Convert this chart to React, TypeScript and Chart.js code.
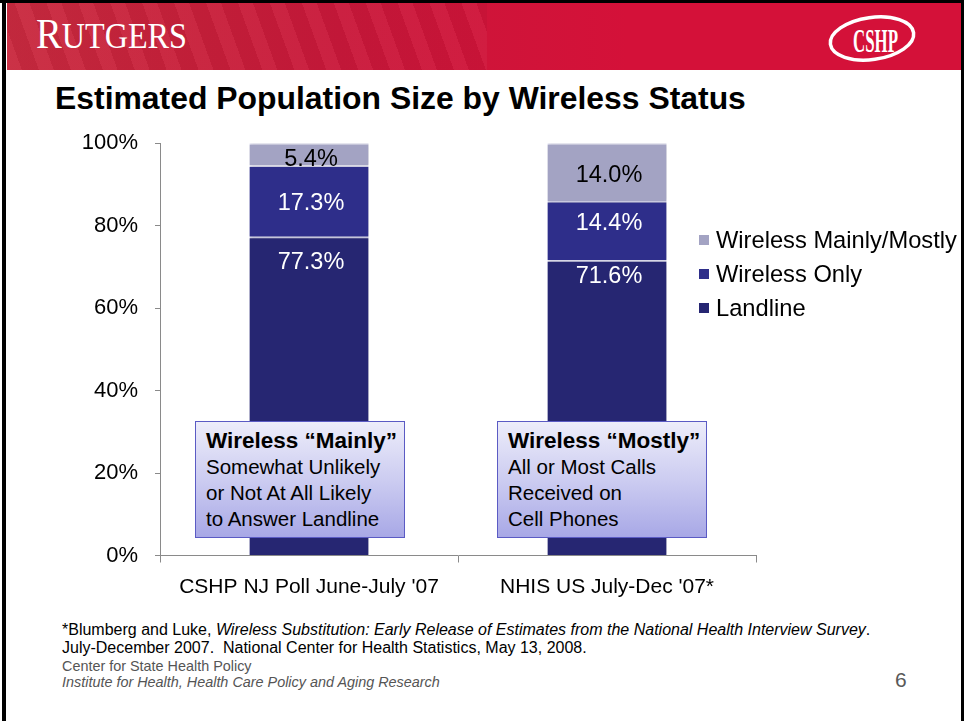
import React, { useEffect, useRef } from "react";
import { Chart, registerables } from "chart.js";

Chart.register(...registerables);

// ---------- data ----------
const categories = ["CSHP NJ Poll June-July '07", "NHIS US July-Dec '07*"];
const landline = [77.3, 71.6];
const wirelessOnly = [17.3, 14.4];
const wirelessMainly = [5.4, 14.0];
const seriesNames = ["Landline", "Wireless Only", "Wireless Mainly/Mostly"];
const yTickValues = [0, 20, 40, 60, 80, 100];

// ---------- styles ----------
const FONT = "'Liberation Sans', Arial, Helvetica, sans-serif";
const SERIF = "'Liberation Serif', 'Times New Roman', serif";
const COLORS = ["#262672", "#2E2E8A", "#A3A3C3"];
const AXIS = "#8a8a8a";
const LABEL_STYLE = [
  { anchor: "top", nudge: [26, 16], color: "#ffffff" },
  { anchor: "center", nudge: [2, -7], color: "#ffffff" },
  { anchor: "center", nudge: [5, 3], color: "#000000" },
];

const shadowPlugin = {
  id: "barShadow",
  beforeDatasetsDraw(chart: any) {
    const c = chart.ctx;
    c.save();
    c.shadowColor = "rgba(0,0,0,0.18)";
    c.shadowOffsetX = 1.5;
    c.shadowOffsetY = 0;
    c.shadowBlur = 3;
  },
  afterDatasetsDraw(chart: any) {
    chart.ctx.restore();
  },
};

const labelPlugin = {
  id: "valueLabels",
  afterDatasetsDraw(chart: any) {
    const ctx = chart.ctx;
    ctx.save();
    ctx.font = `23.5px ${FONT}`;
    ctx.textAlign = "center";
    ctx.textBaseline = "middle";
    chart.data.datasets.forEach((ds: any, i: number) => {
      const meta = chart.getDatasetMeta(i);
      const st = LABEL_STYLE[i];
      meta.data.forEach((el: any, j: number) => {
        const { x, y, base } = el.getProps(["x", "y", "base"], true);
        const v = ds.data[j] as number;
        const cy = st.anchor === "top" ? y + st.nudge[j] : (y + base) / 2 + st.nudge[j];
        ctx.fillStyle = st.color;
        ctx.fillText(v.toFixed(1) + "%", x + 2, cy);
      });
    });
    ctx.restore();
  },
};

function ChartView() {
  const ref = useRef<HTMLCanvasElement>(null);
  useEffect(() => {
    const series = [landline, wirelessOnly, wirelessMainly];
    const chart = new Chart(ref.current as HTMLCanvasElement, {
      type: "bar",
      data: {
        labels: categories,
        datasets: series.map((d, i) => ({
          label: seriesNames[i],
          data: d,
          backgroundColor: COLORS[i],
          borderColor: "#d2d2e8",
          borderWidth: { top: 1.5, right: 0, bottom: 0, left: 0 },
          borderSkipped: "start",
          barPercentage: 0.4,
          categoryPercentage: 1.0,
        })),
      },
      options: {
        animation: false,
        responsive: false,
        maintainAspectRatio: false,
        layout: { padding: { top: 0, right: 24, left: 0, bottom: 0 } },
        plugins: {
          legend: { display: false },
          tooltip: { enabled: false },
        },
        scales: {
          x: {
            stacked: true,
            grid: { drawOnChartArea: false, tickLength: 7, color: AXIS, offset: true },
            border: { color: AXIS },
            ticks: {
              font: { family: FONT, size: 21 },
              color: "#000",
              padding: 12,
              maxRotation: 0,
              autoSkip: false,
            },
            afterFit(s: any) {
              s.height = 54.5;
            },
          },
          y: {
            stacked: true,
            min: 0,
            max: 100,
            grid: { drawOnChartArea: false, tickLength: 5, color: AXIS },
            border: { color: AXIS },
            ticks: {
              font: { family: FONT, size: 22 },
              color: "#000",
              padding: 17,
              callback: (v: any) => v + "%",
            },
            afterBuildTicks(s: any) {
              s.ticks = yTickValues.map((v) => ({ value: v }));
            },
            afterFit(s: any) {
              s.width = 160;
            },
          },
        },
      } as any,
      plugins: [shadowPlugin, labelPlugin],
    });
    return () => chart.destroy();
  }, []);
  return (
    <div style={{ position: "absolute", left: 0, top: 113.3, width: 780, height: 497 }}>
      <canvas ref={ref} width={780} height={497} style={{ display: "block", width: 780, height: 497 }} />
    </div>
  );
}

const abs = (o: React.CSSProperties): React.CSSProperties => ({ position: "absolute", ...o });

export default function App() {
  const legendOrder = [2, 1, 0];
  const boxStyle = (left: number): React.CSSProperties =>
    abs({
      left,
      top: 421,
      width: 210,
      height: 117,
      boxSizing: "border-box",
      border: "1.5px solid #5b5bc4",
      background: "linear-gradient(to bottom, #ededfa 0%, #c9c9f0 55%, #a8a8e6 100%)",
      paddingLeft: 10,
      paddingTop: 5.5,
      fontFamily: FONT,
      color: "#000",
      whiteSpace: "nowrap",
      zIndex: 2,
    });
  const boldLine: React.CSSProperties = { fontWeight: "bold", fontSize: 22.5, lineHeight: "26px" };
  const regLine: React.CSSProperties = { fontSize: 20.5, lineHeight: "26px" };

  return (
    <div
      style={{
        position: "fixed",
        left: 0,
        top: 0,
        width: 964,
        height: 721,
        background: "#fff",
        overflow: "hidden",
        fontFamily: FONT,
      }}
    >
      {/* header band */}
      <div
        style={abs({
          left: 7,
          top: 3,
          width: 954,
          height: 67,
          background:
            "linear-gradient(90deg, #c92a3f 0%, #c81f3a 20%, #c9183a 35%, #cf1439 50%, #d41139 65%, #d41139 100%)",
        })}
      />
      <div
        style={abs({
          left: 7,
          top: 3,
          width: 480,
          height: 67,
          background:
            "repeating-linear-gradient(70deg, rgba(255,255,255,0.04) 0px, rgba(255,255,255,0.04) 14px, rgba(0,0,0,0.04) 14px, rgba(0,0,0,0.04) 30px)",
        })}
      />
      <div
        style={abs({
          left: 36,
          top: 12.8,
          color: "#fff",
          fontFamily: SERIF,
          fontSize: 42,
          lineHeight: "42px",
          whiteSpace: "nowrap",
          transform: "scaleX(0.92)",
          transformOrigin: "left top",
        })}
      >
        R<span style={{ fontSize: 35 }}>UTGERS</span>
      </div>
      <svg style={abs({ left: 820, top: 8 })} width={110} height={62}>
        <ellipse
          cx={52}
          cy={30.5}
          rx={42}
          ry={21}
          transform="rotate(-8 52 30.5)"
          fill="none"
          stroke="#fff"
          strokeWidth={3.5}
        />
        <text
          x={55.5}
          y={43.5}
          textAnchor="middle"
          fill="#fff"
          fontFamily={SERIF}
          fontWeight="bold"
          fontSize={34}
          textLength={45}
          lengthAdjust="spacingAndGlyphs"
        >
          CSHP
        </text>
      </svg>

      {/* borders */}
      <div style={abs({ left: 0, top: 0, width: 964, height: 3, background: "#000" })} />
      <div style={abs({ left: 2, top: 0, width: 4, height: 721, background: "#000" })} />
      <div style={abs({ left: 961, top: 0, width: 3, height: 721, background: "#000" })} />

      {/* title */}
      <div
        style={abs({
          left: 55,
          top: 83.3,
          fontSize: 31.9,
          lineHeight: "31.9px",
          fontWeight: "bold",
          color: "#000",
          whiteSpace: "nowrap",
        })}
      >
        Estimated Population Size by Wireless Status
      </div>

      <ChartView />

      {/* legend */}
      <div style={abs({ left: 699, top: 223 })}>
        {legendOrder.map((i) => (
          <div key={i} style={{ display: "flex", alignItems: "center", height: 34, whiteSpace: "nowrap" }}>
            <div style={{ width: 10, height: 10, background: COLORS[i], marginRight: 7 }} />
            <span style={{ fontSize: 23.7, color: "#000" }}>{seriesNames[i]}</span>
          </div>
        ))}
      </div>

      {/* annotation boxes */}
      <div style={boxStyle(195)}>
        <div style={boldLine}>Wireless “Mainly”</div>
        <div style={regLine}>Somewhat Unlikely</div>
        <div style={regLine}>or Not At All Likely</div>
        <div style={regLine}>to Answer Landline</div>
      </div>
      <div style={boxStyle(497)}>
        <div style={boldLine}>Wireless “Mostly”</div>
        <div style={regLine}>All or Most Calls</div>
        <div style={regLine}>Received on</div>
        <div style={regLine}>Cell Phones</div>
      </div>

      {/* footnotes */}
      <div style={abs({ left: 62, top: 621, fontSize: 16, lineHeight: "18px", color: "#000", whiteSpace: "nowrap" })}>
        *Blumberg and Luke,{" "}
        <i>Wireless Substitution: Early Release of Estimates from the National Health Interview Survey</i>.
      </div>
      <div style={abs({ left: 62, top: 639, fontSize: 16, lineHeight: "18px", color: "#000", whiteSpace: "nowrap" })}>
        July-December 2007.&nbsp; National Center for Health Statistics, May 13, 2008.
      </div>
      <div style={abs({ left: 62, top: 658, fontSize: 14.4, lineHeight: "16px", color: "#555", whiteSpace: "nowrap" })}>
        Center for State Health Policy
      </div>
      <div
        style={abs({
          left: 62,
          top: 674,
          fontSize: 14.4,
          lineHeight: "16px",
          color: "#555",
          fontStyle: "italic",
          whiteSpace: "nowrap",
        })}
      >
        Institute for Health, Health Care Policy and Aging Research
      </div>
      <div style={abs({ left: 895, top: 668, fontSize: 21, lineHeight: "24px", color: "#595959" })}>6</div>
    </div>
  );
}
